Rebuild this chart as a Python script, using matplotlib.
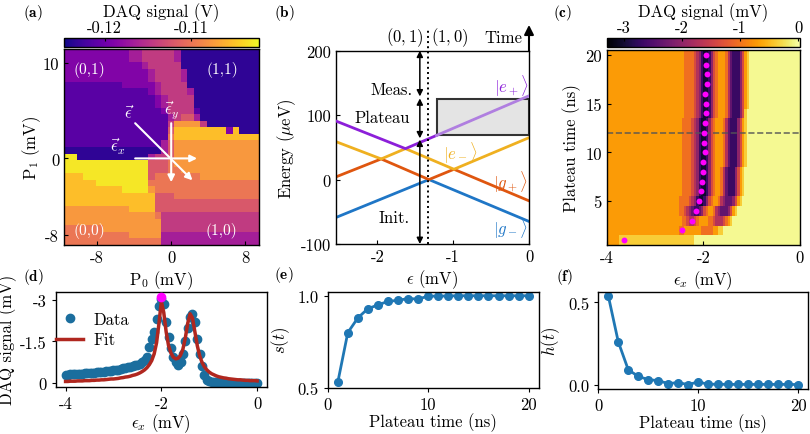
import numpy as np
import matplotlib
matplotlib.use('Agg')
from matplotlib import pyplot as plt
from matplotlib.patches import Rectangle

plt.rcParams['font.family'] = 'serif'
plt.rcParams['font.serif'] = ['cmr10']
plt.rcParams['mathtext.fontset'] = 'cm'
plt.rcParams['axes.unicode_minus'] = False
plt.rcParams['font.size'] = 12
plt.rcParams['axes.linewidth'] = 1.0

# ---------------- data ----------------
# (a) charge stability map, signal codes 0-9 on the colour scale, top row first
stab_rows = [
    "222222222233444443000000000000",
    "222222222233444443000000000000",
    "222222222222344444000000000000",
    "222222222222234444300000000000",
    "222222222222234444300000000000",
    "111111111222223444400000000000",
    "111111111111123444430000000000",
    "111111111111112344440000000000",
    "111111111111112344440000000000",
    "111111111111111244441000000000",
    "111111111111111134553000000000",
    "111111111111111147777400000000",
    "111111111111111158888888828000",
    "111111111111111168888888888888",
    "111111111111111357777777777777",
    "000000000000000357777777777777",
    "990000000000034457777777777777",
    "999999999999955567777777777777",
    "999999999999955566777777777777",
    "888999999999956666666777777777",
    "888889999999966666666666666666",
    "888888888999976666666666666666",
    "888888888888885556666666666666",
    "888888888888885555555555555555",
    "777777777788885555555555555555",
    "777777777777776444444444444444",
    "777777777777777444444444444444",
    "666666777777777444444444444444",
    "666666666677777333333333333333",
    "666666666666666333333333333333",
]
stab_vmin, stab_vmax = -0.1247, -0.1022
stab_extent = (-11.6, 9.5, -9.1, 11.5)
charge_labels = ['(0,1)', '(1,1)', '(0,0)', '(1,0)']
charge_pos = [(-8.9, 9.4), (5.5, 9.4), (-8.9, -7.5), (5.4, -7.5)]

# (b) energy levels
eps_purple = [-2.55, -1.63, -1.22, 0.0]
E_purple = [91, 48, 68.5, 130]
eps_yellow = [-2.55, -1.95, -1.63, -0.99, 0.0]
E_yellow = [59, 32, 48, 16, 65]
eps_orange = [-2.55, -1.95, -1.32, -0.99, 0.0]
E_orange = [4, 32, 0, 16, -33]
eps_blue = [-2.55, -1.32, 0.0]
E_blue = [-59, 0, -65]
eps_transition = -1.33
plateau_box = (-1.22, 69, 125)   # eps start, E low, E high
pulse_eps = -1.44
pulse_meas = (200, 129)
pulse_plateau = (126, 64)
pulse_init = (62, -100)

# (c) plateau-time map, signal codes 0-9, top row (20 ns) first
map_rows = [
    "777777" + "776666543100135677764211135789" + "9999",
    "777777" + "776666543100135677764211135789" + "9999",
    "777777" + "776666543100135677764211135789" + "9999",
    "777777" + "776666543100135677764211135789" + "9999",
    "777777" + "776666543100135677764211135789" + "9999",
    "777777" + "776666543100135677764211135789" + "9999",
    "777777" + "776666543100135677764211135899" + "9999",
    "777777" + "766665431001356777642111357899" + "9999",
    "777777" + "766665431001356777642111357899" + "9999",
    "777777" + "766665431001356777642111357899" + "9999",
    "777777" + "766665431001356777642111357899" + "9999",
    "777777" + "766665431001356777642111357899" + "9999",
    "777777" + "766665431001356776421113578999" + "9999",
    "777777" + "766665431001356776421113578999" + "9999",
    "777777" + "766665431001356776421113578999" + "9999",
    "777777" + "666654310013567764322235789999" + "9999",
    "777777" + "665432112356776432223578999999" + "9999",
    "777777" + "766544567777665444567899999999" + "9999",
    "777777" + "667777777666667788999999999999" + "9999",
    "788888" + "888888999999999999999999999999" + "9999",
]
map_vmin, map_vmax = -3.3, 0.03
map_eps_edges = np.concatenate([np.linspace(-4.0, -2.75, 6),
                                np.linspace(-2.5, -1.05, 30),
                                np.linspace(-1.0, 0.0, 5)])
plateau_t = np.arange(1, 21)
peak_eps = [-3.64, -2.45, -2.24, -2.16, -2.09, -2.05, -2.03, -2.01, -2.00, -1.97,
            -1.98, -1.98, -1.97, -1.95, -1.95, -1.96, -1.93, -1.92, -1.94, -1.94]
cut_t = 12

# (d) line cut at 12 ns
cut_eps = np.linspace(-4.0, 0.0, 81)
cut_data = [-0.30, -0.30, -0.31, -0.31, -0.32, -0.32, -0.33, -0.33, -0.34, -0.35,
            -0.36, -0.36, -0.37, -0.38, -0.39, -0.40, -0.41, -0.42, -0.43, -0.44,
            -0.45, -0.46, -0.48, -0.50, -0.52, -0.54, -0.56, -0.58, -0.60, -0.63,
            -0.66, -0.70, -0.75, -0.82, -0.95, -1.30, -1.60, -1.85, -2.30, -2.80,
            -3.05, -2.85, -2.20, -1.65, -1.25, -0.95, -0.75, -0.65, -0.75, -1.05,
            -1.50, -2.00, -2.40, -2.50, -2.20, -1.60, -1.05, -0.60, -0.30, -0.12,
            -0.05, -0.03, -0.02, -0.02, -0.02, -0.01, -0.01, -0.01, -0.01, -0.01,
            -0.01, -0.01, -0.01, -0.01, 0.0, 0.0, 0.0, 0.0, 0.0, 0.0, 0.0]
cut_fit = [-0.05, -0.05, -0.06, -0.06, -0.06, -0.07, -0.07, -0.07, -0.08, -0.08,
           -0.08, -0.09, -0.09, -0.10, -0.10, -0.11, -0.11, -0.12, -0.13, -0.14,
           -0.14, -0.15, -0.16, -0.18, -0.19, -0.21, -0.22, -0.24, -0.27, -0.29,
           -0.32, -0.36, -0.41, -0.47, -0.55, -0.66, -0.81, -1.05, -1.45, -2.15,
           -2.95, -2.55, -1.85, -1.35, -1.08, -0.93, -0.87, -0.89, -1.00, -1.22,
           -1.62, -2.15, -2.50, -2.35, -1.85, -1.35, -0.98, -0.74, -0.58, -0.47,
           -0.39, -0.33, -0.29, -0.25, -0.22, -0.20, -0.18, -0.17, -0.15, -0.14,
           -0.13, -0.12, -0.11, -0.11, -0.10, -0.09, -0.09, -0.08, -0.08, -0.08, -0.07]
cut_peak = (-2.0, -3.1)

# (e), (f)
s_t = [0.53, 0.80, 0.88, 0.93, 0.95, 0.97, 0.975, 0.985, 0.982, 0.998,
       0.998, 0.999, 1.0, 1.0, 1.0, 1.0, 1.0, 1.0, 1.0, 1.0]
h_t = [0.54, 0.26, 0.09, 0.05, 0.03, 0.024, 0.006, 0.012, 0.0, 0.016,
       0.002, 0.002, 0.001, 0.001, 0.001, 0.001, 0.001, 0.001, 0.001, 0.0]

# ---------------- figure ----------------
W, H = 810, 435
fig = plt.figure(figsize=(W / 100, H / 100), dpi=100)


def box(l, t, r, b):
    return [l / W, 1 - b / H, (r - l) / W, (b - t) / H]


def codes_to_values(rows, vmin, vmax, offset):
    codes = np.array([[int(ch) for ch in row] for row in rows], dtype=float)
    return vmin + (codes + offset) / 10 * (vmax - vmin)


c_purple = '#8c1fd9'
c_purple_l = '#b07fe0'
c_yellow = '#efb020'
c_orange = '#df560f'
c_blue = '#1f76c6'
c_line = '#1f77b4'

# ---- (a)
ax_a = fig.add_axes(box(64, 50, 259, 246))
stab = codes_to_values(stab_rows, stab_vmin, stab_vmax, 0.6)
im_a = ax_a.imshow(stab, cmap='plasma', vmin=stab_vmin, vmax=stab_vmax,
                   extent=stab_extent, aspect='auto', interpolation='nearest')
ax_a.set_xlim(stab_extent[0], stab_extent[1])
ax_a.set_ylim(stab_extent[2], stab_extent[3])
ax_a.set_xticks([-8, 0, 8])
ax_a.set_yticks([-8, 0, 10])
ax_a.tick_params(direction='in', length=3)
ax_a.set_xlabel('P$_0$ (mV)', labelpad=2)
ax_a.set_ylabel('P$_1$ (mV)', labelpad=0)
for lab, pos in zip(charge_labels, charge_pos):
    ax_a.text(pos[0], pos[1], lab, color='white', fontsize=11, ha='center', va='center')
arr = dict(arrowstyle='-|>', color='white', lw=1.5, mutation_scale=10, shrinkA=0, shrinkB=0)
ax_a.annotate('', xy=(2.8, 0), xytext=(-3.9, 0), arrowprops=arr)
ax_a.annotate('', xy=(0, -2.5), xytext=(0, 3.7), arrowprops=arr)
ax_a.annotate('', xy=(2.3, -2.3), xytext=(-3.9, 3.7), arrowprops=arr)
ax_a.text(-4.6, 4.8, r'$\vec{\epsilon}$', color='white', ha='center', va='center', fontsize=12)
ax_a.text(0.0, 5.1, r'$\vec{\epsilon}_y$', color='white', ha='center', va='center', fontsize=12)
ax_a.text(-5.8, 1.3, r'$\vec{\epsilon}_x$', color='white', ha='center', va='center', fontsize=12)

cax_a = fig.add_axes(box(64, 39, 259, 48))
cb_a = fig.colorbar(im_a, cax=cax_a, orientation='horizontal')
cb_a.set_ticks([-0.12, -0.11])
cb_a.set_ticklabels(['-0.12', '-0.11'])
cax_a.xaxis.set_ticks_position('top')
cax_a.xaxis.set_label_position('top')
cax_a.tick_params(direction='in', length=2, pad=2)
cb_a.set_label('DAQ signal (V)', labelpad=3)

# ---- (b)
ax_b = fig.add_axes(box(335.7, 51.7, 529, 245))
ax_b.add_patch(Rectangle((plateau_box[0], plateau_box[1]), 0 - plateau_box[0],
                         plateau_box[2] - plateau_box[1], facecolor='#e4e4e4',
                         edgecolor='#333333', lw=1.5, zorder=1))
ax_b.plot(eps_blue, E_blue, color=c_blue, lw=2, zorder=2)
ax_b.plot(eps_orange, E_orange, color=c_orange, lw=2, zorder=2)
ax_b.plot(eps_yellow, E_yellow, color=c_yellow, lw=2, zorder=2)
ax_b.plot(eps_purple[:3], E_purple[:3], color=c_purple, lw=2, zorder=3)
ax_b.plot(eps_purple[2:], E_purple[2:], color=c_purple_l, lw=2, zorder=3)
ax_b.plot([eps_transition, eps_transition], [-100, 232], 'k:', lw=1.4, clip_on=False, zorder=4)
darr = dict(arrowstyle='<|-|>', color='k', lw=1.1, mutation_scale=9, shrinkA=0, shrinkB=0)
for seg in (pulse_meas, pulse_plateau, pulse_init):
    ax_b.annotate('', xy=(pulse_eps, seg[1]), xytext=(pulse_eps, seg[0]),
                  arrowprops=darr, annotation_clip=False, zorder=5)
ax_b.annotate('', xy=(0, 240), xytext=(0, 200),
              arrowprops=dict(arrowstyle='-|>', color='k', lw=1.5, mutation_scale=14,
                              shrinkA=0, shrinkB=0), annotation_clip=False)
ax_b.text(-1.82, 140, 'Meas.', ha='center', va='center')
ax_b.text(-1.94, 97, 'Plateau', ha='center', va='center')
ax_b.text(-1.78, -58, 'Init.', ha='center', va='center')
ax_b.text(-1.64, 222, '$(0,1)$', ha='center', va='center')
ax_b.text(-1.04, 222, '$(1,0)$', ha='center', va='center')
ax_b.text(-0.34, 221, 'Time', ha='center', va='center')
ax_b.text(-0.23, 148, r'$|e_+\rangle$', color=c_purple, ha='center', va='center')
ax_b.text(-0.91, 42, r'$|e_-\rangle$', color=c_yellow, ha='center', va='center')
ax_b.text(-0.25, -2, r'$|g_+\rangle$', color=c_orange, ha='center', va='center')
ax_b.text(-0.25, -74, r'$|g_-\rangle$', color=c_blue, ha='center', va='center')
ax_b.set_xlim(-2.55, 0)
ax_b.set_ylim(-100, 200)
ax_b.set_xticks([-2, -1, 0])
ax_b.set_yticks([-100, 0, 100, 200])
ax_b.tick_params(direction='in', length=3)
ax_b.set_xlabel(r'$\epsilon$ (mV)', labelpad=2)
ax_b.set_ylabel(r'Energy ($\mu$eV)', labelpad=2)

# ---- (c)
ax_c = fig.add_axes(box(606.7, 51, 800, 246))
sig_map = codes_to_values(map_rows, map_vmin, map_vmax, 0.8)[::-1]
t_edges = np.append(plateau_t - 0.5, plateau_t[-1] + 0.5)
mesh = ax_c.pcolormesh(map_eps_edges, t_edges, sig_map, cmap='inferno',
                       vmin=map_vmin, vmax=map_vmax, shading='flat')
ax_c.scatter(peak_eps, plateau_t, s=18, color='#ff00ff', zorder=3, linewidths=0)
ax_c.axhline(cut_t, color='#555555', ls='--', lw=1.2, alpha=0.85)
ax_c.set_xlim(-4, 0)
ax_c.set_ylim(0.5, 20.5)
ax_c.set_xticks([-4, -2, 0])
ax_c.set_yticks([5, 10, 15, 20])
ax_c.tick_params(direction='in', length=3)
ax_c.set_xlabel(r'$\epsilon_x$ (mV)', labelpad=2)
ax_c.set_ylabel('Plateau time (ns)', labelpad=3)

cax_c = fig.add_axes(box(606.7, 39, 800, 48))
cb_c = fig.colorbar(mesh, cax=cax_c, orientation='horizontal')
cb_c.set_ticks([-3, -2, -1, 0])
cb_c.set_ticklabels(['-3', '-2', '-1', '0'])
cax_c.xaxis.set_ticks_position('top')
cax_c.xaxis.set_label_position('top')
cax_c.tick_params(direction='in', length=2, pad=2)
cb_c.set_label('DAQ signal (mV)', labelpad=3)

# ---- (d)
ax_d = fig.add_axes(box(56, 292.7, 266.7, 388))
ax_d.plot(cut_eps, cut_data, 'o', color='#1b6e9e', ms=6, label='Data', zorder=2)
ax_d.plot(cut_eps, cut_fit, '-', color='#b0271f', lw=2.5, label='Fit', zorder=3)
ax_d.plot([cut_peak[0]], [cut_peak[1]], 'o', color='#ff00ff', ms=6, zorder=4, clip_on=False)
ax_d.set_xlim(-4.2, 0.2)
ax_d.set_ylim(0.15, -3.3)
ax_d.set_xticks([-4, -2, 0])
ax_d.set_yticks([-3, -1.5, 0])
ax_d.set_yticklabels(['-3', '-1.5', '0'])
ax_d.set_xlabel(r'$\epsilon_x$ (mV)', labelpad=0)
ax_d.set_ylabel('DAQ signal (mV)', labelpad=2)
ax_d.legend(loc='upper left', bbox_to_anchor=(-0.03, 0.86), frameon=False,
            handlelength=1.6, handletextpad=0.6, labelspacing=0.3, borderaxespad=0)

# ---- (e)
ax_e = fig.add_axes(box(327.7, 292.7, 538.7, 389))
ax_e.plot(plateau_t, s_t, '-o', color=c_line, lw=2, ms=5.5)
ax_e.set_xlim(0, 21)
ax_e.set_ylim(0.5, 1.022)
ax_e.set_xticks([0, 10, 20])
ax_e.set_yticks([0.5, 1.0])
ax_e.set_yticklabels(['0.5', '1.0'])
ax_e.set_xlabel('Plateau time (ns)', labelpad=0)
ax_e.set_ylabel('$s(t)$', labelpad=4)

# ---- (f)
ax_f = fig.add_axes(box(598.3, 293, 808, 390))
ax_f.plot(plateau_t, h_t, '-o', color=c_line, lw=2, ms=5.5)
ax_f.set_xlim(0, 21)
ax_f.set_ylim(-0.027, 0.563)
ax_f.set_xticks([0, 10, 20])
ax_f.set_yticks([0.0, 0.5])
ax_f.set_yticklabels(['0.0', '0.5'])
ax_f.set_xlabel('Plateau time (ns)', labelpad=0)
ax_f.set_ylabel('$h(t)$', labelpad=4)

for ax in (ax_d, ax_e, ax_f):
    ax.tick_params(direction='out', length=3)

# panel labels
for lab, (px, py) in zip('abcdef', [(33, 13), (284, 13), (563, 13),
                                    (33, 277), (284, 275), (565, 277)]):
    fig.text(px / W, 1 - py / H, r'$\mathbf{(%s)}$' % lab, fontsize=11,
             ha='center', va='center')

fig.savefig('out.png', dpi=100)
